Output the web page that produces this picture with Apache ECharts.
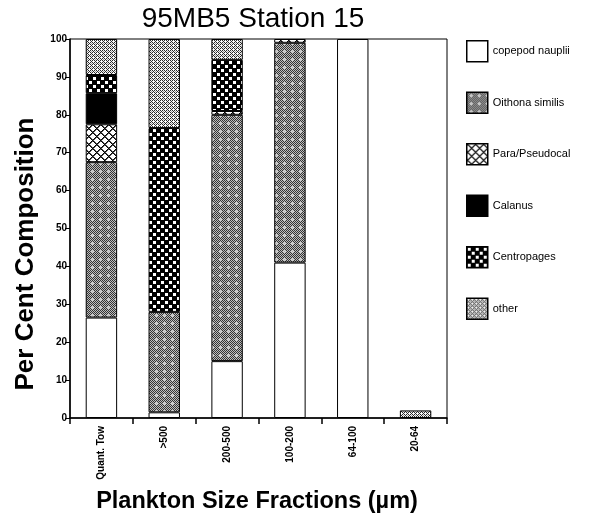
<!DOCTYPE html>
<html>
<head>
<meta charset="utf-8">
<script src="https://cdn.jsdelivr.net/npm/echarts@6/dist/echarts.min.js"></script>
<style>html,body{margin:0;padding:0;background:#fff}#c{width:590px;height:520px}</style>
</head>
<body>
<div id="c"></div>
<script>
var categories = ['Quant. Tow', '>500', '200-500', '100-200', '64-100', '20-64'];
var seriesNames = ['copepod nauplii', 'Oithona similis', 'Para/Pseudocal', 'Calanus', 'Centropages', 'other'];
var nauplii     = [26.5, 1.5, 15, 41, 100, 0];
var oithona     = [41, 26.5, 65, 58, 0, 0];
var paraPseudo  = [10, 0, 1, 1, 0, 0];
var calanus     = [8.2, 0, 0, 0, 0, 0];
var centropages = [4.8, 48.5, 13.5, 0, 0, 0];
var other       = [9.5, 23.5, 5.5, 0, 0, 2];
var yTicks = [0, 10, 20, 30, 40, 50, 60, 70, 80, 90, 100];

function tile(w, h, fn) {
  var c = document.createElement('canvas');
  c.width = w; c.height = h;
  var ctx = c.getContext('2d');
  fn(ctx, w, h);
  return { image: c, repeat: 'repeat' };
}
function px(ctx, x, y, col) { ctx.fillStyle = col; ctx.fillRect(x, y, 1, 1); }

var patWhite = '#ffffff';
var patOithona = tile(8, 8, function (ctx, w, h) {
  for (var y = 0; y < h; y++) for (var x = 0; x < w; x++) {
    px(ctx, x, y, ((x + y) % 2 === 0) ? '#333333' : '#bdbdbd');
  }
  px(ctx, 4, 2, '#d0d0d0'); px(ctx, 3, 3, '#d0d0d0'); px(ctx, 5, 3, '#d0d0d0'); px(ctx, 4, 4, '#d0d0d0');
});
var patPara = tile(8, 8, function (ctx, w, h) {
  ctx.fillStyle = '#fff'; ctx.fillRect(0, 0, w, h);
  for (var y = 0; y < h; y++) for (var x = 0; x < w; x++) {
    var d1 = (x - y + 16) % 8, d2 = (x + y) % 8;
    if (d1 === 0 || d2 === 0) px(ctx, x, y, '#000');
    else if (d1 === 1 || d2 === 1) px(ctx, x, y, '#555');
  }
});
var patCalanus = '#000000';
var patCentro = tile(8, 8, function (ctx, w, h) {
  ctx.fillStyle = '#000'; ctx.fillRect(0, 0, w, h);
  ctx.fillStyle = '#fff';
  ctx.fillRect(1, 1, 3, 3);
  ctx.fillRect(5, 5, 3, 3);
});
var patOther = tile(4, 4, function (ctx, w, h) {
  for (var y = 0; y < h; y++) for (var x = 0; x < w; x++) {
    px(ctx, x, y, ((x + y) % 2 === 0) ? '#2a2a2a' : '#f4f4f4');
  }
  px(ctx, 1, 1, '#ffffff'); px(ctx, 3, 3, '#9a9a9a');
});

var fills = [patWhite, patOithona, patPara, patCalanus, patCentro, patOther];
var values = [nauplii, oithona, paraPseudo, calanus, centropages, other];

var series = seriesNames.map(function (name, i) {
  return {
    name: name,
    type: 'bar',
    stack: 'total',
    barWidth: '50%',
    itemStyle: { color: fills[i], borderColor: '#000', borderWidth: 1 },
    data: values[i].map(function (v) { return v === 0 ? '-' : v; })
  };
});

var chart = echarts.init(document.getElementById('c'), null, { renderer: 'canvas' });
chart.setOption({
  animation: false,
  backgroundColor: '#fff',
  textStyle: { fontFamily: 'Liberation Sans' },
  graphic: [
    { type: 'text', x: 253, y: 19,
      style: { text: '95MB5 Station 15', font: 'normal 28px "Liberation Sans"', fill: '#000',
               align: 'center', verticalAlign: 'middle' }, silent: true },
    { type: 'text', x: 26, y: 254, rotation: Math.PI / 2,
      style: { text: 'Per Cent Composition', font: 'bold 26px "Liberation Sans"', fill: '#000',
               align: 'center', verticalAlign: 'middle' }, silent: true },
    { type: 'text', x: 257, y: 502,
      style: { text: 'Plankton Size Fractions (µm)', font: 'bold 23.5px "Liberation Sans"', fill: '#000',
               align: 'center', verticalAlign: 'middle' }, silent: true }
  ],
  legend: {
    orient: 'vertical',
    left: 461, top: 35,
    itemWidth: 21, itemHeight: 21, itemGap: 29,
    icon: 'rect',
    itemStyle: { borderColor: '#000', borderWidth: 1.5 },
    textStyle: { fontFamily: 'Liberation Sans', fontSize: 11, color: '#000' },
    data: seriesNames
  },
  grid: {
    left: 70, right: 143, top: 39, bottom: 102,
    show: true, borderColor: '#000', borderWidth: 1, backgroundColor: 'transparent'
  },
  xAxis: {
    type: 'category',
    data: categories,
    axisLine: { lineStyle: { color: '#000', width: 1.5 } },
    axisTick: { show: true, length: 6, lineStyle: { color: '#000', width: 1.5 } },
    axisLabel: { rotate: 90, fontSize: 10, fontWeight: 'bold', color: '#000', margin: 8, fontFamily: 'Liberation Sans' }
  },
  yAxis: {
    type: 'value',
    min: 0, max: 100, interval: 10,
    splitLine: { show: false },
    axisLine: { show: true, lineStyle: { color: '#000', width: 1.5 } },
    axisTick: { show: true, length: 5, lineStyle: { color: '#000' } },
    axisLabel: {
      fontSize: 10, fontWeight: 'bold', color: '#000', margin: 3, fontFamily: 'Liberation Sans',
      customValues: yTicks
    }
  },
  series: series
});
</script>
</body>
</html>
